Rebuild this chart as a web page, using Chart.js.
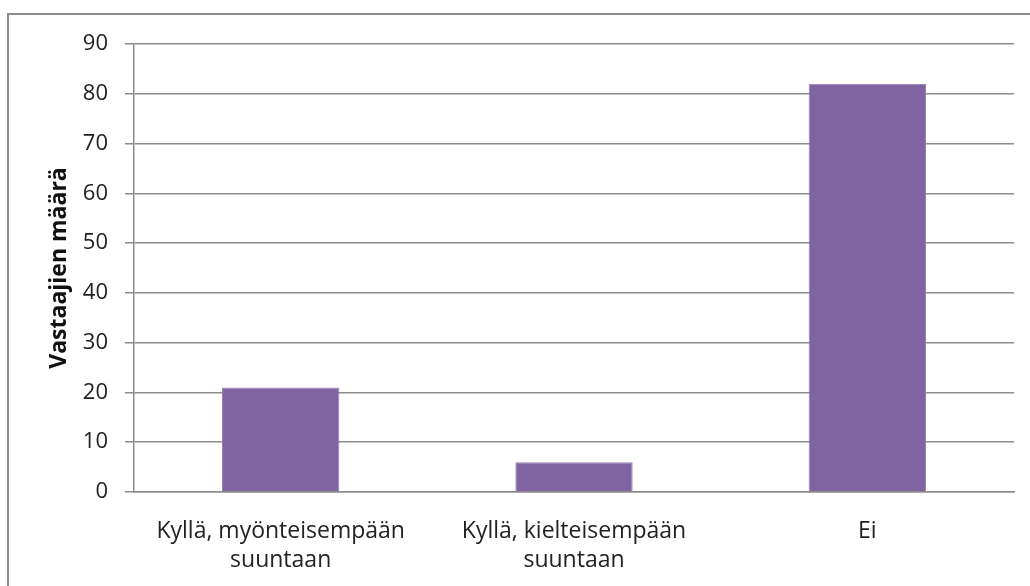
<!DOCTYPE html>
<html>
<head>
<meta charset="utf-8">
<script src="https://cdn.jsdelivr.net/npm/chart.js@4/dist/chart.umd.min.js"></script>
<style>
  html, body { margin: 0; padding: 0; background: #fff; }
  #wrap { position: relative; width: 1030px; height: 586px; overflow: hidden; }
  #frame { position: absolute; left: 7px; top: 13px; width: 1040px; height: 600px;
           border-left: 2px solid #8c8c8c; border-top: 2px solid #8c8c8c; }
  canvas { position: absolute; left: 0; top: 0; }
</style>
</head>
<body>
<div id="wrap">
  <div id="frame"></div>
  <canvas id="answers_chart" width="1030" height="586"></canvas>
</div>
<script>
var categories = [
  ['Kyllä, myönteisempään', 'suuntaan'],
  ['Kyllä, kielteisempään', 'suuntaan'],
  'Ei'
];
var counts = [21, 6, 82];
var axisTitle = 'Vastaajien määrä';

var ctx = document.getElementById('answers_chart').getContext('2d');

var chartInstance = new Chart(ctx, {
  type: 'bar',
  data: {
    labels: categories,
    datasets: [{
      data: counts,
      backgroundColor: '#8064a2',
      borderColor: '#9683b3',
      borderWidth: 1,
      categoryPercentage: 1,
      barPercentage: 0.4
    }]
  },
  options: {
    responsive: false,
    animation: false,
    layout: { padding: { left: 0, right: 16, top: 44, bottom: 0 } },
    plugins: {
      legend: { display: false },
      tooltip: { enabled: false }
    },
    scales: {
      x: {
        grid: { display: false, drawTicks: false },
        border: { display: true, color: '#8c8c8c', width: 1.5 },
        ticks: {
          padding: 25,
          maxRotation: 0,
          color: '#222',
          font: { family: 'Open Sans', size: 23, lineHeight: 1.25 }
        },
        afterFit: function (scale) { scale.height = 94; }
      },
      y: {
        min: 0,
        max: 90,
        ticks: {
          stepSize: 10,
          padding: 17,
          color: '#222',
          font: { family: 'Open Sans', size: 22 }
        },
        grid: { color: '#8c8c8c', lineWidth: 1.5, tickLength: 9 },
        border: { display: true, color: '#8c8c8c', width: 1.5 },
        title: {
          display: true,
          text: axisTitle,
          color: '#111',
          padding: { top: 46, bottom: 0 },
          font: { family: 'Open Sans', size: 23, weight: 'bold' }
        },
        afterFit: function (scale) { scale.width = 134; }
      }
    }
  }
});
</script>
</body>
</html>
